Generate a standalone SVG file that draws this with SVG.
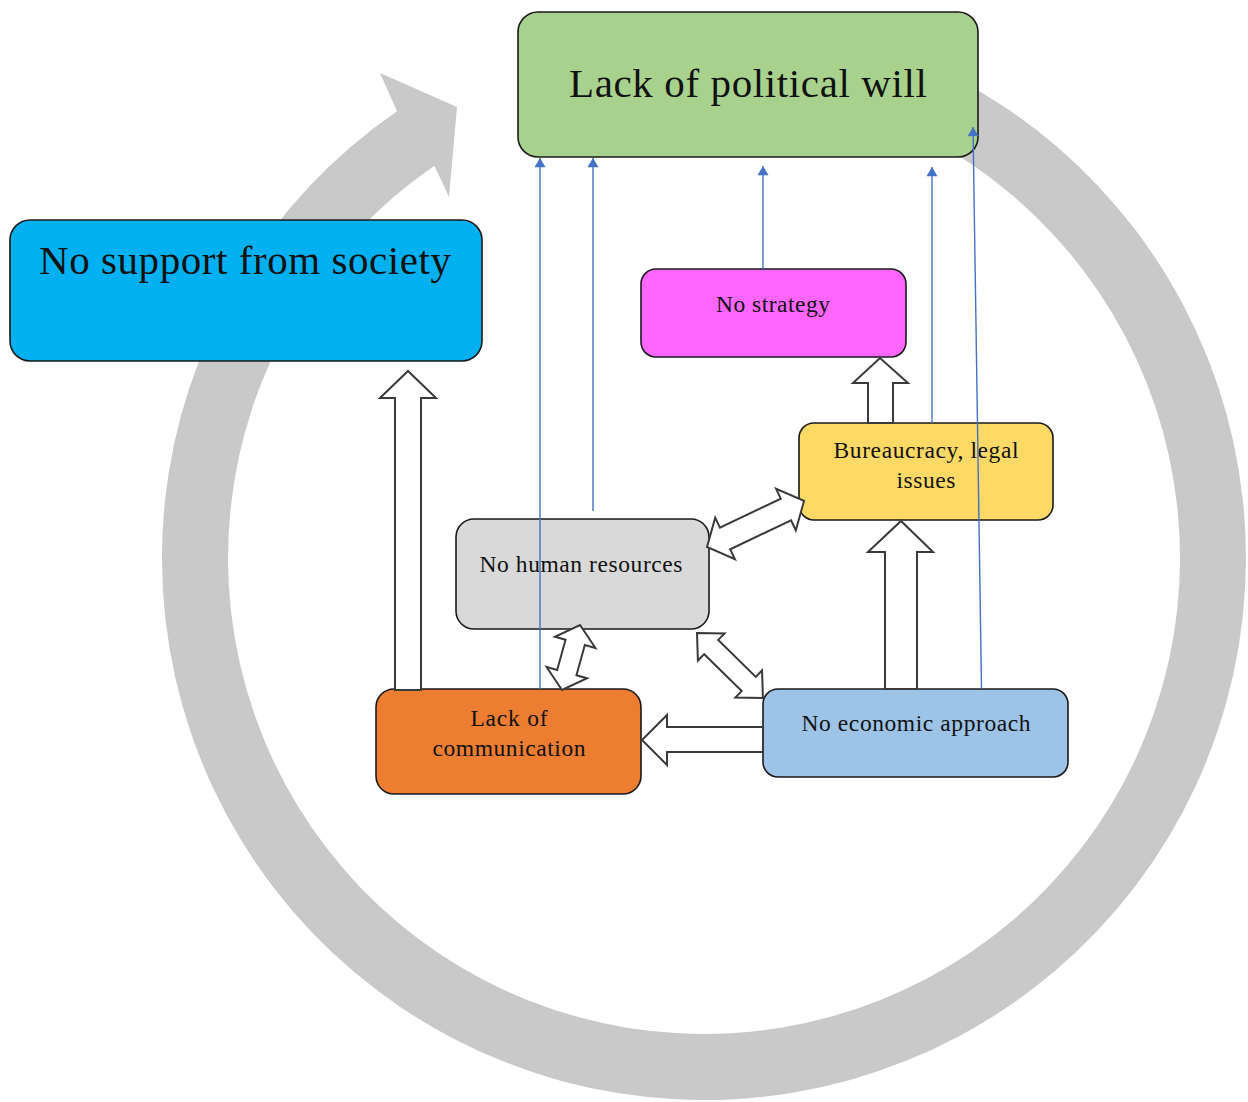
<svg xmlns="http://www.w3.org/2000/svg" width="1248" height="1102" viewBox="0 0 1248 1102">
<style>
.box{stroke:#1a1a1a;stroke-width:1.6}
.t{font-family:"Liberation Serif","Times New Roman",serif;fill:#111;text-anchor:middle}
.big{font-size:41px}
.sm{font-size:23.5px}
.blk{fill:#fff;stroke:#3a3a3a;stroke-width:2;stroke-linejoin:miter}
.thin{stroke:#4472c4;stroke-width:1.4;fill:none;marker-end:url(#ah)}
</style>
<defs>
<marker id="ah" viewBox="0 0 10 12" refX="10" refY="6" markerWidth="13" markerHeight="11" markerUnits="userSpaceOnUse" orient="auto">
<path d="M0,0 L10,6 L0,12 Z" fill="#4472c4"/>
</marker>
</defs>
<rect width="1248" height="1102" fill="#fff"/>
<g id="cycle-arrow">
<path d="M 958.5 79.5 A 542 542 0 1 1 397 111.3 L 380 73 L 457 107 L 449 197 L 434.4 165.7 A 476 476 0 1 0 927.5 137.7 Z" fill="#c9c9c9"/>
</g>
<g id="node-political">
<rect class="box" x="518" y="12" width="460" height="145" rx="20" fill="#a9d18e"/>
<text class="t big" x="748" y="97" textLength="358">Lack of political will</text>
</g>
<g id="node-society">
<rect class="box" x="10" y="220" width="472" height="141" rx="20" fill="#00b0f0"/>
<text class="t big" x="245" y="274" textLength="412">No support from society</text>
</g>
<g id="node-strategy">
<rect class="box" x="641" y="269" width="265" height="88" rx="15" fill="#ff66ff"/>
<text class="t sm" x="773" y="312" textLength="114">No strategy</text>
</g>
<g id="node-bureaucracy">
<rect class="box" x="799" y="423" width="254" height="97" rx="15" fill="#ffd966"/>
<text class="t sm" x="926" y="458" textLength="185">Bureaucracy, legal</text>
<text class="t sm" x="926" y="488" textLength="59">issues</text>
</g>
<g id="node-human">
<rect class="box" x="456" y="519" width="253" height="110" rx="18" fill="#d9d9d9"/>
<text class="t sm" x="581" y="572" textLength="203">No human resources</text>
</g>
<g id="node-communication">
<rect class="box" x="376" y="689" width="265" height="105" rx="18" fill="#ed7d31"/>
<text class="t sm" x="509" y="726" textLength="77">Lack of</text>
<text class="t sm" x="509" y="756" textLength="153">communication</text>
</g>
<g id="node-economic">
<rect class="box" x="763" y="689" width="305" height="88" rx="15" fill="#9dc3e6"/>
<text class="t sm" x="916" y="731" textLength="229">No economic approach</text>
</g>
<g id="connectors">
<polygon class="blk" points="395,690 395,398 380,398 408,371 436,398 421,398 421,690"/>
<polygon class="blk" points="868,423 868,383 853,383 880,358 908,383 893,383 893,423"/>
<polygon class="blk" points="885,689 885,552 868,552 901,521 933,552 917,552 917,689"/>
<polygon class="blk" points="763,727 667,727 667,715 642,740 667,765 667,752 763,752"/>
<g transform="translate(707,547) rotate(-25.4)">
<polygon class="blk" points="0,0 20,-23 20,-12 87.4,-12 87.4,-23 107.4,0 87.4,23 87.4,12 20,12 20,23"/>
</g>
<g transform="translate(562,690) rotate(-74.5)">
<polygon class="blk" points="0,0 18,-21 18,-10 49.4,-10 49.4,-21 67.4,0 49.4,21 49.4,10 18,10 18,21"/>
</g>
<g transform="translate(697,633) rotate(44.6)">
<polygon class="blk" points="0,0 20,-19 20,-10 72.6,-10 72.6,-19 92.6,0 72.6,19 72.6,10 20,10 20,19"/>
</g>
<line class="thin" x1="540" y1="689" x2="540" y2="158"/>
<line class="thin" x1="593" y1="511" x2="593" y2="158"/>
<line class="thin" x1="763" y1="269" x2="763" y2="166"/>
<line class="thin" x1="932" y1="423" x2="932" y2="167"/>
<line class="thin" x1="981.5" y1="689" x2="973" y2="127"/>
</g>
</svg>
